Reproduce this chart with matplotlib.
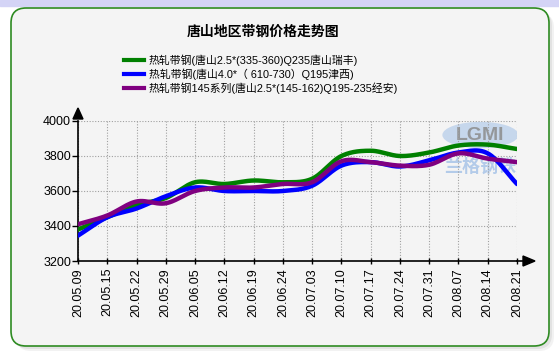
import matplotlib
matplotlib.use('Agg')
import matplotlib.pyplot as plt
import numpy as np
from matplotlib.patches import FancyBboxPatch, Polygon, Ellipse
from matplotlib.transforms import IdentityTransform

plt.rcParams['font.family'] = ['Liberation Sans', 'Noto Sans CJK SC', 'DejaVu Sans']

# 数据
dates = ['20.05.09', '20.05.15', '20.05.22', '20.05.29', '20.06.05', '20.06.12',
         '20.06.19', '20.06.24', '20.07.03', '20.07.10', '20.07.17', '20.07.24',
         '20.07.31', '20.08.07', '20.08.14', '20.08.21']
ruifeng = [3380, 3450, 3520, 3560, 3650, 3640, 3660, 3650,
           3670, 3800, 3830, 3800, 3820, 3860, 3865, 3840]
jinxi = [3345, 3450, 3500, 3570, 3620, 3600, 3600, 3600,
         3630, 3745, 3765, 3740, 3775, 3820, 3815, 3640]
jingan = [3410, 3460, 3540, 3530, 3600, 3620, 3620, 3640,
          3650, 3770, 3765, 3745, 3750, 3815, 3785, 3765]
names = ['热轧带钢(唐山2.5*(335-360)Q235唐山瑞丰)',
         '热轧带钢(唐山4.0*（ 610-730）Q195津西)',
         '热轧带钢145系列(唐山2.5*(145-162)Q195-235经安)']
colors = ['#008000', '#0000ff', '#800080']
yticks = [3200, 3400, 3600, 3800, 4000]

W, H = 559, 354
fig = plt.figure(figsize=(W / 100, H / 100), dpi=100)
fig.patch.set_facecolor('white')
px = IdentityTransform()

# 顶部色条
fig.add_artist(plt.Rectangle((0, H - 6), W, 6, transform=px, color='#d4d4f6', zorder=0))

# 面板阴影和面板
for off, a in [(5, 0.10), (3, 0.15)]:
    fig.add_artist(FancyBboxPatch((11 + off, 8 - off), 538, 338, transform=px,
                                  boxstyle='round,pad=0,rounding_size=15',
                                  fc='#888888', ec='none', alpha=a, zorder=0))
fig.add_artist(FancyBboxPatch((11, 8), 538, 338, transform=px,
                              boxstyle='round,pad=0,rounding_size=15',
                              fc='#f4f4f4', ec='#2e8b22', lw=1.2, zorder=0))

# 坐标轴
x0, x1, yb, yt = 78, 517, 261, 121
ax = fig.add_axes([x0 / W, 1 - yb / H, (x1 - x0) / W, (yb - yt) / H])
ax.set_facecolor('none')


def smooth(y, n=24):
    # Catmull-Rom 曲线, 仅用于绘制平滑折线
    y = np.asarray(y, float)
    p = np.concatenate([[2 * y[0] - y[1]], y, [2 * y[-1] - y[-2]]])
    xs, ys = [], []
    t = np.linspace(0, 1, n, endpoint=False)
    for i in range(len(y) - 1):
        a, b, c, d = p[i], p[i + 1], p[i + 2], p[i + 3]
        v = 0.5 * (2 * b + (-a + c) * t + (2 * a - 5 * b + 4 * c - d) * t ** 2
                   + (-a + 3 * b - 3 * c + d) * t ** 3)
        xs.append(i + t)
        ys.append(v)
    xs.append([len(y) - 1])
    ys.append([y[-1]])
    return np.concatenate(xs), np.concatenate(ys)


# 水印
ax.add_patch(Ellipse((13.75, 3920), 2.6, 150, fc='#a8c4e8', ec='none', alpha=0.6, zorder=1))
ax.text(13.75, 3918, 'LGMI', ha='center', va='center', fontsize=14, fontweight='bold',
        color='#8c8c8c', alpha=0.85, zorder=1)
ax.text(13.75, 3735, '兰格钢铁', ha='center', va='center', fontsize=13, fontweight='bold',
        color='#a8c4e8', alpha=0.85, zorder=1)

for series, c in zip([ruifeng, jinxi, jingan], colors):
    sx, sy = smooth(series)
    ax.plot(sx, sy, color=c, lw=3.2, solid_capstyle='round', zorder=3)

ax.set_xlim(0, len(dates) - 1)
ax.set_ylim(3200, 4000)
ax.set_xticks(range(len(dates)))
ax.set_xticklabels(dates, rotation=90, fontsize=9)
ax.set_yticks(yticks)
ax.set_yticklabels([str(v) for v in yticks], fontsize=9)
ax.grid(True, color='#a0a0a0', linestyle=(0, (1, 1.5)), lw=0.8)
for s in ['top', 'right']:
    ax.spines[s].set_visible(False)
for s in ['left', 'bottom']:
    ax.spines[s].set_color('black')
    ax.spines[s].set_linewidth(1.2)
ax.tick_params(axis='x', length=4, width=1, pad=3, direction='inout')
ax.tick_params(axis='y', length=4, width=1, pad=1)

# 箭头
fig.add_artist(Polygon([[x0, H - 108], [x0 - 5, H - 119], [x0 + 5, H - 119]],
                       closed=True, transform=px, color='black', zorder=5))
fig.add_artist(Polygon([[535, H - yb], [523, H - yb + 5], [523, H - yb - 5]],
                       closed=True, transform=px, color='black', zorder=5))
fig.add_artist(plt.Line2D([x1, 524], [H - yb, H - yb], transform=px, color='black', lw=1.2))

# 标题
fig.text(263 / W, 1 - 32 / H, '唐山地区带钢价格走势图', ha='center', va='center',
         fontsize=10, fontweight='bold')

# 图例
for i, (nm, c) in enumerate(zip(names, colors)):
    yy = 1 - (60 + i * 14) / H
    fig.add_artist(plt.Line2D([124 / W, 144 / W], [yy, yy], color=c, lw=3))
    fig.text(149 / W, yy, nm, ha='left', va='center', fontsize=7.8)

fig.savefig('out.png', dpi=100)
